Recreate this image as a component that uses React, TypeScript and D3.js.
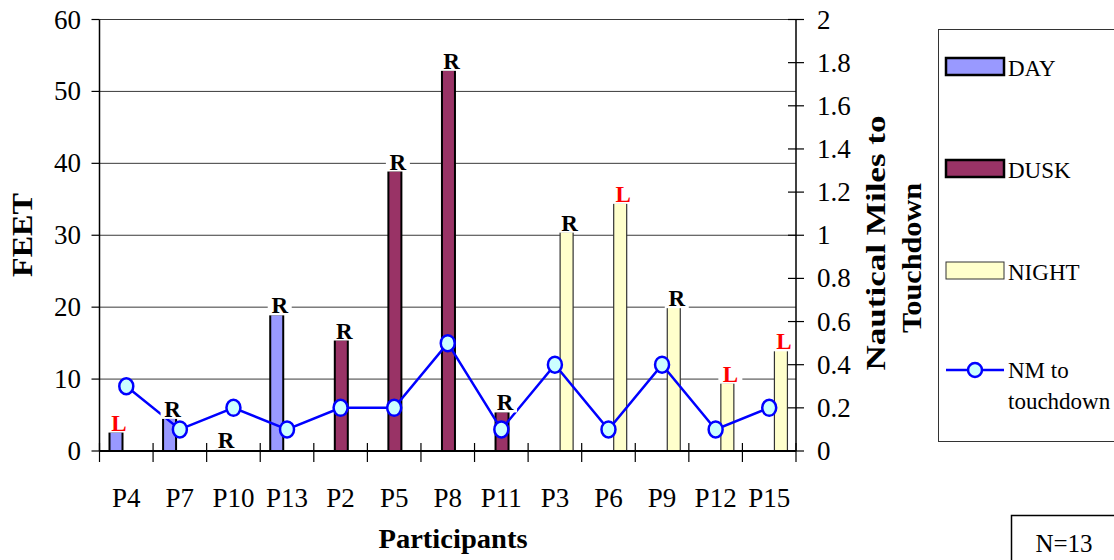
import React from 'react';
import * as d3 from 'd3';

const participants = ['P4', 'P7', 'P10', 'P13', 'P2', 'P5', 'P8', 'P11', 'P3', 'P6', 'P9', 'P12', 'P15'];
const conditions = ['DAY', 'DAY', 'DAY', 'DAY', 'DUSK', 'DUSK', 'DUSK', 'DUSK', 'NIGHT', 'NIGHT', 'NIGHT', 'NIGHT', 'NIGHT'];
const feet = [2.7, 4.6, 0.3, 19, 15.5, 39, 53, 5.5, 30.5, 34.5, 20, 9.5, 14];
const sides = ['L', 'R', 'R', 'R', 'R', 'R', 'R', 'R', 'R', 'L', 'R', 'L', 'L'];
const nmToTouchdown = [0.3, 0.1, 0.2, 0.1, 0.2, 0.2, 0.5, 0.1, 0.4, 0.1, 0.4, 0.1, 0.2];
const seriesNames = ['DAY', 'DUSK', 'NIGHT'];
const feetTicks = [0, 10, 20, 30, 40, 50, 60];
const nmTicks = [0, 0.2, 0.4, 0.6, 0.8, 1, 1.2, 1.4, 1.6, 1.8, 2];

const FONT = "'Liberation Serif', 'Times New Roman', Tinos, 'DejaVu Serif', serif";

const fills: Record<string, string> = { DAY: '#9999FF', DUSK: '#993366', NIGHT: '#FFFFCC' };
const strokes: Record<string, string> = { DAY: '#000', DUSK: '#000', NIGHT: '#333' };
const strokeW: Record<string, number> = { DAY: 2, DUSK: 2, NIGHT: 1.2 };

const App: React.FC = () => {
  const left = 99.5, right = 796, top = 19.5, bottom = 451;

  const x = d3.scaleBand<string>().domain(participants).range([left, right]).paddingInner(0).paddingOuter(0);
  const xs = d3.scaleBand<string>().domain(seriesNames).range([10, 43]);
  const y = d3.scaleLinear().domain([0, 60]).range([bottom, top]);
  const y2 = d3.scaleLinear().domain([0, 2]).range([bottom, top]);

  const line = d3.line<number>()
    .x((_, i) => x(participants[i])! + x.bandwidth() / 2)
    .y(d => y2(d));

  const barW = xs.bandwidth() + 2;

  return (
    <svg width={1114} height={560} style={{ position: 'absolute', left: 0, top: 0, background: '#fff', fontFamily: FONT }}>
      {/* gridlines */}
      {feetTicks.filter(t => t > 0).map(t => (
        <line key={'g' + t} x1={left} x2={right} y1={y(t)} y2={y(t)} stroke="#3a3a3a" strokeWidth={1} />
      ))}

      {/* bars */}
      {participants.map((p, i) => {
        const c = conditions[i];
        const bx = x(p)! + xs(c)!;
        return (
          <rect key={'b' + p} x={bx} y={y(feet[i])} width={barW} height={bottom - y(feet[i])}
            fill={fills[c]} stroke={strokes[c]} strokeWidth={strokeW[c]} />
        );
      })}

      {/* line */}
      <path d={line(nmToTouchdown)!} fill="none" stroke="#0000FF" strokeWidth={2.5} />
      {nmToTouchdown.map((v, i) => (
        <ellipse key={'m' + i} cx={x(participants[i])! + x.bandwidth() / 2} cy={y2(v)} rx={7} ry={8}
          fill="#CCFFFF" stroke="#0000FF" strokeWidth={2.5} />
      ))}

      {/* bar labels */}
      {participants.map((p, i) => {
        const c = conditions[i];
        const cx = x(p)! + xs(c)! + barW / 2 + 3;
        const base = y(feet[i]) - 1;
        const isR = sides[i] === 'R';
        return (
          <g key={'l' + p}>
            <rect x={cx - 12} y={base - 17} width={24} height={19} fill="#fff" />
            <text x={cx} y={base} textAnchor="middle" fontSize={23} fontWeight="bold"
              fill={isR ? '#000' : '#FF0000'}>{sides[i]}</text>
          </g>
        );
      })}

      {/* axes */}
      <line x1={left} x2={left} y1={top} y2={bottom} stroke="#000" strokeWidth={1.5} />
      <line x1={right} x2={right} y1={top} y2={bottom} stroke="#000" strokeWidth={1.5} />
      <line x1={left} x2={right} y1={bottom} y2={bottom} stroke="#000" strokeWidth={2} />

      {feetTicks.map(t => (
        <g key={'yt' + t}>
          <line x1={left - 8} x2={left} y1={y(t)} y2={y(t)} stroke="#000" strokeWidth={1.2} />
          <text x={81} y={y(t) + 9} textAnchor="end" fontSize={27}>{t}</text>
        </g>
      ))}
      {nmTicks.map(t => (
        <g key={'y2t' + t}>
          <line x1={right - 8} x2={right + 8} y1={y2(t)} y2={y2(t)} stroke="#000" strokeWidth={1.2} />
          <text x={817} y={y2(t) + 9} textAnchor="start" fontSize={27}>{d3.format('~g')(t)}</text>
        </g>
      ))}
      {participants.map(p => (
        <line key={'xt' + p} x1={x(p)!} x2={x(p)!} y1={bottom - 8} y2={bottom + 11} stroke="#000" strokeWidth={1.2} />
      ))}
      <line x1={right} x2={right} y1={bottom - 8} y2={bottom + 11} stroke="#000" strokeWidth={1.2} />
      {participants.map(p => (
        <text key={'xl' + p} x={x(p)! + x.bandwidth() / 2} y={507} textAnchor="middle" fontSize={27}>{p}</text>
      ))}

      {/* axis titles */}
      <text x={453} y={548} textAnchor="middle" fontSize={27} fontWeight="bold" textLength={149} lengthAdjust="spacingAndGlyphs">Participants</text>
      <text transform="translate(32,235) rotate(-90)" textAnchor="middle" fontSize={29} fontWeight="bold" textLength={84} lengthAdjust="spacingAndGlyphs">FEET</text>
      <text transform="translate(885,243) rotate(-90)" textAnchor="middle" fontSize={27} fontWeight="bold" textLength={255} lengthAdjust="spacingAndGlyphs">Nautical Miles to</text>
      <text transform="translate(921,258) rotate(-90)" textAnchor="middle" fontSize={27} fontWeight="bold" textLength={150} lengthAdjust="spacingAndGlyphs">Touchdown</text>

      {/* legend */}
      <rect x={938.5} y={29.5} width={200} height={412} fill="#fff" stroke="#333" strokeWidth={1} />
      {seriesNames.map((s, i) => {
        const ly = 58 + i * 102;
        return (
          <g key={'lg' + s}>
            <rect x={946} y={ly} width={58} height={17} fill={fills[s]} stroke={strokes[s]}
              strokeWidth={s === 'NIGHT' ? 1 : 2.5} />
            <text x={1008} y={ly + 18} fontSize={23}>{s}</text>
          </g>
        );
      })}
      <line x1={946} x2={1004} y1={370} y2={370} stroke="#0000FF" strokeWidth={2.5} />
      <ellipse cx={975} cy={370} rx={7} ry={7} fill="#CCFFFF" stroke="#0000FF" strokeWidth={2.5} />
      <text x={1008} y={378} fontSize={23}>NM to</text>
      <text x={1008} y={409} fontSize={23}>touchdown</text>

      {/* N box */}
      <rect x={1011.5} y={515.5} width={120} height={60} fill="#fff" stroke="#000" strokeWidth={1.5} />
      <text x={1064} y={552} textAnchor="middle" fontSize={25}>N=13</text>
    </svg>
  );
};

export default App;
